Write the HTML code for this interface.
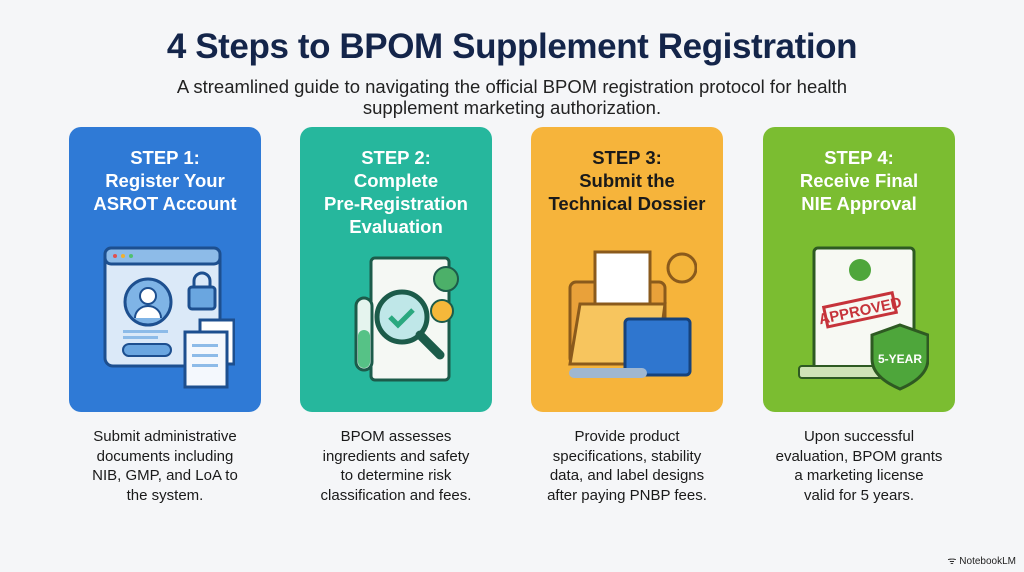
<!DOCTYPE html>
<html><head><meta charset="utf-8"><style>
*{margin:0;padding:0;box-sizing:border-box}
body{width:1024px;height:572px;background:#f5f6f8;font-family:"Liberation Sans",sans-serif;position:relative;overflow:hidden}
h1{position:absolute;top:27px;left:0;width:1024px;text-align:center;font-size:35px;font-weight:bold;color:#14254a;letter-spacing:-0.4px}
.sub{position:absolute;top:76px;left:0;width:1024px;text-align:center;font-size:18.5px;line-height:21px;color:#222}
.card{position:absolute;top:127px;width:192px;height:285px;border-radius:12px;text-align:center}
.card h2{margin-top:19px;font-size:18.5px;line-height:23px;font-weight:bold;color:#fff}
.card svg{position:absolute;left:26px;top:115px}
.desc{position:absolute;top:427px;width:192px;text-align:center;font-size:15px;line-height:19.5px;color:#1a1a1a}
.nb{position:absolute;right:8px;bottom:5px;font-size:10px;color:#222}
</style></head><body>
<h1>4 Steps to BPOM Supplement Registration</h1>
<div class="sub">A streamlined guide to navigating the official BPOM registration protocol for health<br>supplement marketing authorization.</div>

<div class="card" style="left:69px;background:#2f7ad6">
<h2>STEP 1:<br>Register Your<br>ASROT Account</h2>
<svg width="140" height="150" viewBox="0 0 140 150">
<rect x="10" y="6" width="115" height="118" rx="8" fill="#dbe9f8" stroke="#1d4f8f" stroke-width="3"/>
<rect x="10" y="6" width="115" height="16" rx="6" fill="#8dbbe8" stroke="#1d4f8f" stroke-width="3"/>
<circle cx="20" cy="14" r="2" fill="#e05050"/><circle cx="28" cy="14" r="2" fill="#f0b030"/><circle cx="36" cy="14" r="2" fill="#50c070"/>
<circle cx="53" cy="60" r="23" fill="#7fb4e6" stroke="#1d4f8f" stroke-width="3"/>
<circle cx="53" cy="54" r="8" fill="#fff" stroke="#1d4f8f" stroke-width="2"/>
<path d="M40 76a13 12 0 0 1 26 0" fill="#fff" stroke="#1d4f8f" stroke-width="2"/>
<rect x="94" y="45" width="26" height="22" rx="3" fill="#6aa6e0" stroke="#1d4f8f" stroke-width="3"/>
<path d="M99 45v-6a8 8 0 0 1 16 0v6" fill="none" stroke="#1d4f8f" stroke-width="3"/>
<rect x="28" y="88" width="45" height="3" fill="#8dbbe8"/><rect x="28" y="94" width="35" height="3" fill="#8dbbe8"/>
<rect x="28" y="102" width="48" height="12" rx="6" fill="#6aa6e0" stroke="#1d4f8f" stroke-width="2"/>
<rect x="105" y="78" width="34" height="44" fill="#fff" stroke="#1d4f8f" stroke-width="3"/>
<rect x="90" y="90" width="42" height="55" fill="#f4f8fd" stroke="#1d4f8f" stroke-width="3"/>
<rect x="97" y="102" width="26" height="3" fill="#8dbbe8"/><rect x="97" y="112" width="26" height="3" fill="#8dbbe8"/><rect x="97" y="122" width="26" height="3" fill="#8dbbe8"/>
</svg>
</div>
<div class="desc" style="left:69px">Submit administrative<br>documents including<br>NIB, GMP, and LoA to<br>the system.</div>

<div class="card" style="left:300px;background:#26b79d">
<h2>STEP 2:<br>Complete<br>Pre-Registration<br>Evaluation</h2>
<svg width="140" height="150" viewBox="0 0 140 150">
<rect x="45" y="16" width="78" height="122" rx="4" fill="#f5f8f4" stroke="#1c5b4a" stroke-width="3"/>
<rect x="30" y="56" width="16" height="72" rx="8" fill="#e5f4ee" stroke="#1c5b4a" stroke-width="3"/>
<rect x="32" y="88" width="12" height="38" rx="6" fill="#56c286"/>
<circle cx="76" cy="75" r="25" fill="#bfe7e8" stroke="#1c5b4a" stroke-width="5"/>
<path d="M64 75l8 8 15-15" fill="none" stroke="#2aa87f" stroke-width="5"/>
<line x1="94" y1="93" x2="114" y2="113" stroke="#1c5b4a" stroke-width="9" stroke-linecap="round"/>
<circle cx="120" cy="37" r="12" fill="#4cb069" stroke="#1c5b4a" stroke-width="2"/>
<circle cx="116" cy="69" r="11" fill="#f5b83a" stroke="#1c5b4a" stroke-width="2"/>
</svg>
</div>
<div class="desc" style="left:300px">BPOM assesses<br>ingredients and safety<br>to determine risk<br>classification and fees.</div>

<div class="card" style="left:531px;background:#f6b43b">
<h2 style="color:#1a1a1a">STEP 3:<br>Submit the<br>Technical Dossier</h2>
<svg width="140" height="150" viewBox="0 0 140 150">
<rect x="13" y="40" width="95" height="82" rx="6" fill="#e9a13a" stroke="#8a5a1c" stroke-width="3"/>
<rect x="38" y="10" width="55" height="75" fill="#fff" stroke="#8a5a1c" stroke-width="3"/>
<path d="M13 122l10-60h85l-8 60z" fill="#f7c55e" stroke="#8a5a1c" stroke-width="3"/>
<circle cx="125" cy="26" r="14" fill="#f3b43a" stroke="#8a5a1c" stroke-width="3"/>
<rect x="68" y="77" width="65" height="56" rx="4" fill="#2f76cf" stroke="#16427c" stroke-width="3"/>
<rect x="12" y="126" width="78" height="10" rx="5" fill="#9fb7d1"/>
</svg>
</div>
<div class="desc" style="left:531px">Provide product<br>specifications, stability<br>data, and label designs<br>after paying PNBP fees.</div>

<div class="card" style="left:763px;background:#7bbd31">
<h2>STEP 4:<br>Receive Final<br>NIE Approval</h2>
<svg width="140" height="150" viewBox="0 0 140 150">
<rect x="25" y="6" width="100" height="125" rx="4" fill="#f7f9f3" stroke="#2e5a22" stroke-width="3"/>
<rect x="10" y="124" width="110" height="12" rx="3" fill="#cfe3b6" stroke="#2e5a22" stroke-width="2"/>
<circle cx="71" cy="28" r="11" fill="#4ea63b"/>
<g transform="rotate(-12 70 68)"><rect x="36" y="58" width="70" height="20" fill="none" stroke="#c6333a" stroke-width="3"/><text x="71" y="74" text-anchor="middle" font-size="15" font-weight="bold" fill="#c6333a" font-family="Liberation Sans">APPROVED</text></g>
<path d="M111 83l28 10v24c0 15-14 24-28 30c-14-6-28-15-28-30v-24z" fill="#4ea63b" stroke="#2e5a22" stroke-width="3"/>
<text x="111" y="121" text-anchor="middle" font-size="12" font-weight="bold" fill="#fff" font-family="Liberation Sans">5-YEAR</text>
</svg>
</div>
<div class="desc" style="left:763px">Upon successful<br>evaluation, BPOM grants<br>a marketing license<br>valid for 5 years.</div>

<div class="nb">ᯤ NotebookLM</div>
</body></html>
